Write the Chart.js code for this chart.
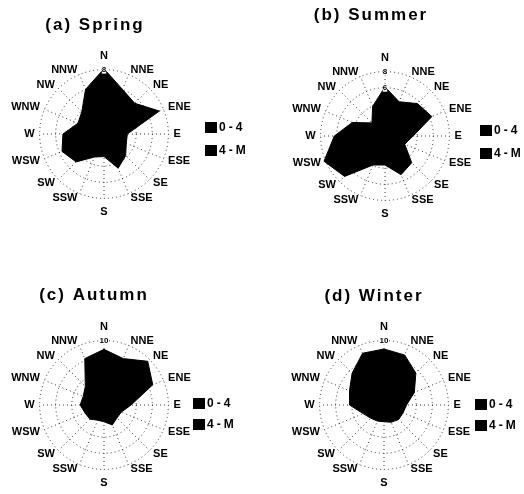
<!DOCTYPE html>
<html lang="en">
<head>
  <meta charset="UTF-8">
  <title>Seasonal wind roses</title>
  <script src="https://cdn.jsdelivr.net/npm/chart.js"></script>
  <style>
    html, body { margin: 0; padding: 0; background: #fff; overflow: hidden; }
    .panel { position: absolute; width: 262px; height: 262px; }
  </style>
</head>
<body>
  <canvas class="panel" id="spring" width="262" height="262" style="left:0;top:0"></canvas>
  <canvas class="panel" id="summer" width="262" height="262" style="left:262px;top:0"></canvas>
  <canvas class="panel" id="autumn" width="262" height="262" style="left:0;top:247px"></canvas>
  <canvas class="panel" id="winter" width="262" height="262" style="left:262px;top:247px"></canvas>

  <script>
    const directions = ['N', 'NNE', 'NE', 'ENE', 'E', 'ESE', 'SE', 'SSE', 'S', 'SSW', 'SW', 'WSW', 'W', 'WNW', 'NW', 'NNW'];
    const speedClasses = ['0-4', '4-M'];

    // frequency (%) per direction
    const spring = [8.1, 6.0, 5.4, 7.45, 2.9, 3.0, 3.8, 4.6, 2.8, 3.1, 4.9, 5.65, 5.1, 3.5, 3.9, 6.0];
    const summer = [6.1, 4.6, 5.7, 6.3, 3.5, 2.65, 4.7, 5.2, 3.6, 3.9, 7.1, 8.2, 6.3, 4.4, 2.3, 4.0];
    const autumn = [8.65, 7.8, 9.6, 8.2, 4.2, 2.9, 2.85, 3.35, 2.6, 2.55, 3.1, 3.2, 3.7, 3.5, 4.1, 7.8];
    const winter = [8.7, 8.4, 7.0, 5.1, 3.5, 3.2, 3.2, 2.9, 2.6, 2.7, 2.9, 3.5, 5.35, 5.8, 7.0, 8.7];

    const springTicks = [8];
    const summerTicks = [6, 8];
    const autumnTicks = [10];
    const winterTicks = [10];

    const FONT = '"Liberation Sans", Arial, sans-serif';

    // title and class legend, drawn on the canvas
    const panelText = {
      id: 'panelText',
      afterDraw(chart, args, o) {
        const ctx = chart.ctx;
        ctx.save();
        ctx.fillStyle = '#000';
        ctx.textBaseline = 'middle';
        ctx.textAlign = 'center';
        ctx.font = 'bold 17px ' + FONT;
        ctx.letterSpacing = '2px';
        ctx.fillText(o.title, o.titleX, o.titleY);
        ctx.textAlign = 'left';
        ctx.font = 'bold 12px ' + FONT;
        ctx.letterSpacing = '3px';
        speedClasses.forEach((label, i) => {
          const y = o.legendY + i * o.legendGap;
          ctx.fillRect(o.legendX, y, 12, 11);
          ctx.fillText(label, o.legendX + 14, y + 6);
        });
        ctx.restore();
      }
    };

    function makeRose(id, values, max, step, tickLabels, pad, text) {
      return new Chart(document.getElementById(id), {
        type: 'radar',
        data: {
          labels: directions,
          datasets: [{
            label: speedClasses.join(' / '),
            data: values,
            fill: true,
            backgroundColor: '#000',
            borderColor: '#000',
            borderWidth: 1,
            pointRadius: 0
          }]
        },
        options: {
          responsive: false,
          animation: false,
          devicePixelRatio: 1,
          layout: { padding: pad },
          plugins: {
            legend: { display: false },
            title: { display: false },
            tooltip: { enabled: false },
            panelText: text
          },
          scales: {
            r: {
              min: 0,
              max: max,
              ticks: {
                stepSize: step,
                z: 1,
                color: '#000',
                font: { family: FONT, size: 8, weight: 'bold' },
                backdropColor: '#fff',
                backdropPadding: 0,
                showLabelBackdrop: c => tickLabels.includes(c.tick.value),
                callback: v => tickLabels.includes(v) ? String(v) : ''
              },
              grid: { circular: true, color: '#000', lineWidth: 0.8 },
              border: { dash: [1, 3] },
              angleLines: { color: '#000', lineWidth: 0.8, borderDash: [1, 3] },
              pointLabels: {
                color: '#000',
                // N and S sit further out, the rest hug the ring
                padding: c => (c.index % 8 === 0 ? 9.5 : 1),
                font: { family: FONT, size: 11, weight: 'bold', lineHeight: 0.01 }
              }
            }
          }
        },
        plugins: [panelText]
      });
    }

    makeRose('spring', spring, 8, 2, springTicks,
      { left: 5, right: 62, top: 56, bottom: 49 },
      { title: '(a) Spring', titleX: 95, titleY: 25, legendX: 205, legendY: 122, legendGap: 23 });
    makeRose('summer', summer, 8, 2, summerTicks,
      { left: 24, right: 43, top: 58, bottom: 47 },
      { title: '(b) Summer', titleX: 109, titleY: 15, legendX: 218, legendY: 125, legendGap: 23 });
    makeRose('autumn', autumn, 10, 2.5, autumnTicks,
      { left: 5, right: 62, top: 80, bottom: 25 },
      { title: '(c) Autumn', titleX: 94, titleY: 48, legendX: 193, legendY: 151, legendGap: 21 });
    makeRose('winter', winter, 10, 2.5, winterTicks,
      { left: 23, right: 44, top: 80, bottom: 25 },
      { title: '(d) Winter', titleX: 112, titleY: 49, legendX: 213, legendY: 152, legendGap: 21 });
  </script>
</body>
</html>
